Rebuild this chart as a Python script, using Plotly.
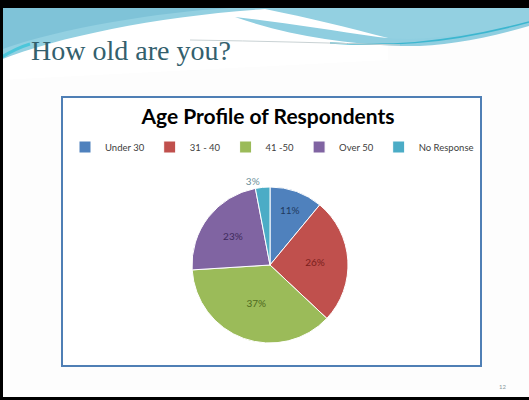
import plotly.graph_objects as go

W, H = 529, 400

categories = ["Under 30", "31 - 40", "41 -50", "Over 50", "No Response"]
values = [11, 26, 37, 23, 3]
slice_colors = ["#4F81BD", "#C0504D", "#9BBB59", "#8064A2", "#4BACC6"]
label_colors = ["#1F3A60", "#7A1E1C", "#4E6A20", "#3E2A5C", "#6A8E98"]
label_positions = ["inside", "inside", "inside", "inside", "outside"]

chart_title = "Age Profile of Respondents"
slide_title = "How old are you?"
slide_number = "12"


def px(x, y):
    return f"{x / W:.4f},{1 - y / H:.4f}"


def path(*cmds):
    out = []
    for c in cmds:
        if isinstance(c, str):
            out.append(c)
        else:
            out.append(px(*c))
    return " ".join(out)


fig = go.Figure()

fig.add_trace(go.Pie(
    labels=categories,
    values=values,
    sort=False,
    direction="clockwise",
    rotation=0,
    marker=dict(colors=slice_colors, line=dict(color="white", width=1)),
    texttemplate="%{value}%",
    textposition=label_positions,
    insidetextorientation="horizontal",
    textfont=dict(family="Lato, Carlito, sans-serif", size=10, color=label_colors),
    outsidetextfont=dict(family="Lato, Carlito, sans-serif", size=10, color="#6A8E98"),
    hoverinfo="label+percent",
    domain=dict(x=[(270 - 78) / W, (270 + 78) / W], y=[1 - 343 / H, 1 - 187 / H]),
    automargin=False,
    showlegend=True,
))

shapes = []
# slide background decoration (blue swoosh)
shapes.append(dict(
    type="path", xref="paper", yref="paper", layer="below",
    path=path("M", (0, 8), "L", (529, 8), "L", (529, 24), "C", (480, 38), (440, 47), (400, 45),
              "C", (330, 43), (260, 40), (0, 64), "Z"),
    fillcolor="#93D0E1", line=dict(width=0)))
shapes.append(dict(
    type="path", xref="paper", yref="paper", layer="below",
    path=path("M", (0, 8), "L", (230, 8), "C", (160, 12), (60, 28), (0, 50), "Z"),
    fillcolor="#7FC3D8", line=dict(width=0)))
shapes.append(dict(
    type="path", xref="paper", yref="paper", layer="below",
    path=path("M", (0, 60), "C", (60, 36), (160, 16), (265, 9), "C", (310, 18), (345, 27), (388, 38),
              "L", (388, 60), "L", (0, 80), "Z"),
    fillcolor="white", line=dict(width=0)))
shapes.append(dict(
    type="path", xref="paper", yref="paper", layer="below",
    path=path("M", (235, 17), "C", (280, 22), (330, 30), (378, 37), "C", (420, 43), (480, 34), (529, 22),
              "L", (529, 26), "C", (480, 40), (440, 47), (400, 46), "C", (340, 43), (290, 36), (235, 17), "Z"),
    fillcolor="#8FCEE0", line=dict(width=0)))
shapes.append(dict(
    type="path", xref="paper", yref="paper", layer="below",
    path=path("M", (330, 43), "C", (380, 46), (440, 46), (529, 22)),
    line=dict(color="#3CB6CF", width=1.5)))
shapes.append(dict(
    type="path", xref="paper", yref="paper", layer="below",
    path=path("M", (0, 58), "C", (10, 52), (20, 47), (30, 44)),
    line=dict(color="#4CC6DA", width=3)))
shapes.append(dict(
    type="path", xref="paper", yref="paper", layer="below",
    path=path("M", (190, 40), "C", (260, 41), (330, 43), (400, 45)),
    line=dict(color="#C9D2D4", width=1)))
# chart box
shapes.append(dict(
    type="rect", xref="paper", yref="paper", layer="below",
    x0=62 / W, x1=481 / W, y0=1 - 366 / H, y1=1 - 97 / H,
    fillcolor="white", line=dict(color="#4F7FB5", width=2)))
# black frame of the screenshot
for (x0, y0, x1, y1) in [(0, 0, 529, 8), (0, 0, 3, 400), (0, 397, 529, 400)]:
    shapes.append(dict(
        type="rect", xref="paper", yref="paper", layer="above",
        x0=x0 / W, x1=x1 / W, y0=1 - y1 / H, y1=1 - y0 / H,
        fillcolor="black", line=dict(width=0)))

annotations = [
    dict(text=slide_title, x=29 / W, y=1 - 50 / H, xref="paper", yref="paper",
         xanchor="left", yanchor="middle", showarrow=False,
         font=dict(family="Liberation Serif, Times New Roman, serif", size=28, color="#33606D")),
    dict(text=slide_number, x=502 / W, y=1 - 386 / H, xref="paper", yref="paper",
         xanchor="center", yanchor="middle", showarrow=False,
         font=dict(family="Lato, sans-serif", size=6, color="#8A9A9E")),
]

fig.update_layout(
    width=W, height=H,
    margin=dict(l=0, r=0, t=0, b=0),
    paper_bgcolor="#FDFDFD",
    plot_bgcolor="#FDFDFD",
    title=dict(text="<b>" + chart_title + "</b>", x=268 / W, y=1 - 117 / H,
               xanchor="center", yanchor="middle",
               font=dict(family="Lato, Carlito, sans-serif", size=21, color="#000000")),
    legend=dict(orientation="h", x=272 / W, y=1 - 147 / H, xanchor="center", yanchor="middle",
                font=dict(family="Lato, Carlito, sans-serif", size=9.5, color="#404040"),
                itemwidth=30,
                bgcolor="rgba(0,0,0,0)", traceorder="normal"),
    shapes=shapes,
    annotations=annotations,
)

fig.write_html("out.html", config={"displayModeBar": False},
               post_script="document.body.style.margin='0';document.body.style.overflow='hidden';")
